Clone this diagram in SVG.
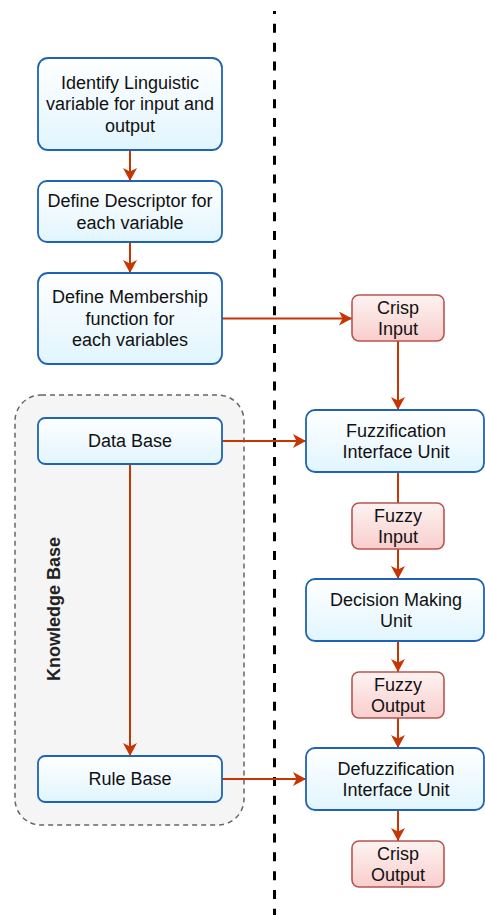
<svg xmlns="http://www.w3.org/2000/svg" width="485" height="915" viewBox="0 0 485 915">
  <defs>
    <linearGradient id="gBlue" x1="0" y1="0" x2="0" y2="1">
      <stop offset="0" stop-color="#ffffff"/>
      <stop offset="1" stop-color="#e1f5fe"/>
    </linearGradient>
    <linearGradient id="gRed" x1="0" y1="0" x2="0" y2="1">
      <stop offset="0" stop-color="#fdf3f2"/>
      <stop offset="1" stop-color="#f8cecc"/>
    </linearGradient>
    <marker id="arrow" viewBox="0 0 13 14" markerUnits="userSpaceOnUse" markerWidth="13" markerHeight="14" refX="13" refY="7" orient="auto">
      <path d="M0,0 L13,7 L0,14 L3.5,7 Z" fill="#c73500"/>
    </marker>
  </defs>
  <style>
    .blue { fill: url(#gBlue); stroke: #1f63b3; stroke-width: 1.8; }
    .red { fill: url(#gRed); stroke: #b85450; stroke-width: 1.6; }
    .lbl { font-family: "Liberation Sans", Arial, sans-serif; font-size: 18px; fill: #111111; text-anchor: middle; }
    .title { font-family: "Liberation Sans", Arial, sans-serif; font-size: 18px; font-weight: bold; fill: #222222; text-anchor: middle; }
    .edge { fill: none; stroke: #c73500; stroke-width: 2; }
    .arr { marker-end: url(#arrow); }
  </style>

  <!-- separator between design steps and inference engine -->
  <line x1="274.5" y1="11" x2="274.5" y2="915" stroke="#000000" stroke-width="3" stroke-dasharray="9 9.83" stroke-dashoffset="6"/>

  <!-- knowledge base container -->
  <g id="knowledge-base">
    <rect x="15" y="395" width="229" height="430" rx="26" ry="26" fill="#f5f5f5" stroke="#666666" stroke-width="1.5" stroke-dasharray="5 4"/>
    <text class="title" x="60" y="609" transform="rotate(-90 60 609)">Knowledge Base</text>
  </g>

  <!-- connectors -->
  <g id="connectors">
    <path class="edge arr" d="M130,150 V181"/>
    <path class="edge arr" d="M130,242 V273"/>
    <path class="edge arr" d="M222,318.5 H352"/>
    <path class="edge arr" d="M398,341 V410"/>
    <path class="edge arr" d="M222,441 H306"/>
    <path class="edge" d="M398,472 V503"/>
    <path class="edge arr" d="M398,549 V579"/>
    <path class="edge arr" d="M398,641 V672"/>
    <path class="edge arr" d="M398,718 V748"/>
    <path class="edge arr" d="M398,810 V841"/>
    <path class="edge arr" d="M130,464 V756"/>
    <path class="edge arr" d="M222,779 H306"/>
  </g>

  <!-- design steps -->
  <g id="identify-variables">
    <rect class="blue" x="38" y="58" width="184" height="92" rx="10"/>
    <text class="lbl" x="130" y="88.7">Identify Linguistic</text>
    <text class="lbl" x="130" y="110.3">variable for input and</text>
    <text class="lbl" x="130" y="131.9">output</text>
  </g>
  <g id="define-descriptor">
    <rect class="blue" x="38" y="181" width="184" height="61" rx="9"/>
    <text class="lbl" x="130" y="207">Define Descriptor for</text>
    <text class="lbl" x="130" y="228.6">each variable</text>
  </g>
  <g id="define-membership">
    <rect class="blue" x="38" y="273" width="184" height="91" rx="10"/>
    <text class="lbl" x="130" y="303.2">Define Membership</text>
    <text class="lbl" x="130" y="324.8">function for</text>
    <text class="lbl" x="130" y="346.4">each variables</text>
  </g>
  <g id="data-base">
    <rect class="blue" x="38" y="418" width="184" height="46" rx="7"/>
    <text class="lbl" x="130" y="447.3">Data Base</text>
  </g>
  <g id="rule-base">
    <rect class="blue" x="38" y="756" width="184" height="46" rx="7"/>
    <text class="lbl" x="130" y="785.3">Rule Base</text>
  </g>

  <!-- inference pipeline -->
  <g id="crisp-input">
    <rect class="red" x="352" y="295" width="92" height="46" rx="7"/>
    <text class="lbl" x="398" y="313.5">Crisp</text>
    <text class="lbl" x="398" y="335.1">Input</text>
  </g>
  <g id="fuzzification">
    <rect class="blue" x="306" y="410" width="178" height="62" rx="9"/>
    <text class="lbl" x="396" y="436.5">Fuzzification</text>
    <text class="lbl" x="396" y="458.1">Interface Unit</text>
  </g>
  <g id="fuzzy-input">
    <rect class="red" x="352" y="503" width="92" height="46" rx="7"/>
    <text class="lbl" x="398" y="521.5">Fuzzy</text>
    <text class="lbl" x="398" y="543.1">Input</text>
  </g>
  <g id="decision-making">
    <rect class="blue" x="306" y="579" width="178" height="62" rx="9"/>
    <text class="lbl" x="396" y="605.5">Decision Making</text>
    <text class="lbl" x="396" y="627.1">Unit</text>
  </g>
  <g id="fuzzy-output">
    <rect class="red" x="352" y="672" width="92" height="46" rx="7"/>
    <text class="lbl" x="398" y="690.5">Fuzzy</text>
    <text class="lbl" x="398" y="712.1">Output</text>
  </g>
  <g id="defuzzification">
    <rect class="blue" x="306" y="748" width="178" height="62" rx="9"/>
    <text class="lbl" x="396" y="774.5">Defuzzification</text>
    <text class="lbl" x="396" y="796.1">Interface Unit</text>
  </g>
  <g id="crisp-output">
    <rect class="red" x="352" y="841" width="92" height="46" rx="7"/>
    <text class="lbl" x="398" y="859.5">Crisp</text>
    <text class="lbl" x="398" y="881.1">Output</text>
  </g>
</svg>
